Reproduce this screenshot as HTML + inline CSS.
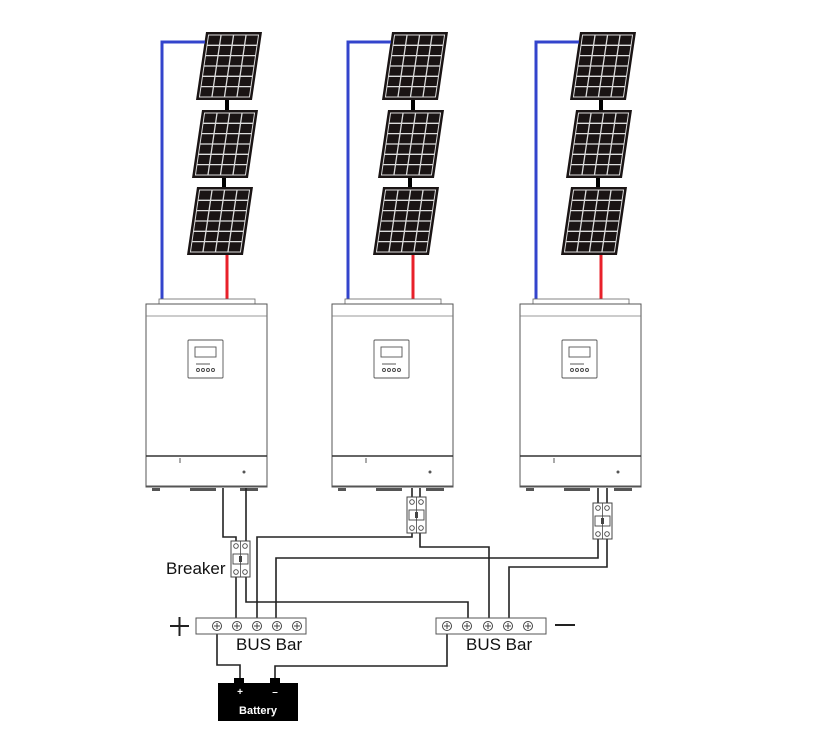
<!DOCTYPE html>
<html><head><style>body{margin:0;background:#fff}svg{display:block}</style></head><body>
<svg width="817" height="750" viewBox="0 0 817 750" xmlns="http://www.w3.org/2000/svg">
<defs>
<g id="panel">
<rect x="0" y="0" width="56" height="68" fill="#1a1414"/>
<rect x="3" y="3" width="50" height="62" fill="none" stroke="#ddd" stroke-width="1"/>
<g stroke="#ddd" stroke-width="1.3">
<line x1="15.5" y1="3" x2="15.5" y2="65"/><line x1="28" y1="3" x2="28" y2="65"/><line x1="40.5" y1="3" x2="40.5" y2="65"/>
<line x1="3" y1="13.3" x2="53" y2="13.3"/><line x1="3" y1="23.6" x2="53" y2="23.6"/><line x1="3" y1="34" x2="53" y2="34"/>
<line x1="3" y1="44.3" x2="53" y2="44.3"/><line x1="3" y1="54.6" x2="53" y2="54.6"/>
</g>
</g>
<g id="unit">
<line x1="227" y1="100" x2="227" y2="110" stroke="#000" stroke-width="4"/>
<line x1="224" y1="178" x2="224" y2="188" stroke="#000" stroke-width="4"/>
<use href="#panel" transform="matrix(1,0,-0.147,1,206,32)"/>
<use href="#panel" transform="matrix(1,0,-0.147,1,202,110)"/>
<use href="#panel" transform="matrix(1,0,-0.147,1,197,187)"/>
<polyline points="162,303 162,42 205,42" fill="none" stroke="#3344cc" stroke-width="3"/>
<line x1="227" y1="255" x2="227" y2="303" stroke="#e8202a" stroke-width="3"/>
<rect x="159" y="299" width="96" height="5" fill="#fff" stroke="#666" stroke-width="0.8"/>
<rect x="146" y="304" width="121" height="183" fill="#fff" stroke="#555" stroke-width="1"/>
<line x1="146" y1="316" x2="267" y2="316" stroke="#777" stroke-width="0.8"/>
<line x1="146" y1="456" x2="267" y2="456" stroke="#333" stroke-width="1.5"/>
<line x1="146" y1="486" x2="267" y2="486" stroke="#555" stroke-width="1"/>
<rect x="188" y="340" width="35" height="38" fill="#fff" stroke="#555" stroke-width="0.9" rx="1"/>
<rect x="195" y="347" width="21" height="10" fill="#fff" stroke="#555" stroke-width="0.9"/>
<g fill="none" stroke="#444" stroke-width="0.9">
<circle cx="198" cy="370" r="1.5"/><circle cx="203" cy="370" r="1.5"/><circle cx="208" cy="370" r="1.5"/><circle cx="213" cy="370" r="1.5"/>
<line x1="196" y1="364" x2="210" y2="364"/>
</g>
<circle cx="244" cy="472" r="1.5" fill="#555"/>
<line x1="180" y1="458" x2="180" y2="463" stroke="#555"/>
<g fill="#555"><rect x="152" y="488" width="8" height="3"/><rect x="190" y="488" width="26" height="3"/><rect x="240" y="488" width="18" height="3"/></g>
</g>
<g id="brk">
<rect x="0" y="0" width="19" height="36" fill="#fff" stroke="#444" stroke-width="1"/>
<line x1="9.5" y1="0" x2="9.5" y2="36" stroke="#444" stroke-width="0.8"/>
<g fill="none" stroke="#444" stroke-width="0.9"><circle cx="5" cy="5" r="2.3"/><circle cx="14" cy="5" r="2.3"/><circle cx="5" cy="31" r="2.3"/><circle cx="14" cy="31" r="2.3"/>
<rect x="2" y="13" width="15" height="10"/></g>
<rect x="8" y="15" width="3" height="6" fill="#444"/>
</g>
<g id="screw"><circle r="4.5" fill="#fff" stroke="#444" stroke-width="1"/><line x1="-3" y1="0" x2="3" y2="0" stroke="#444"/><line x1="0" y1="-3" x2="0" y2="3" stroke="#444"/></g>
</defs>
<use href="#unit"/>
<use href="#unit" transform="translate(186,0)"/>
<use href="#unit" transform="translate(374,0)"/>
<g fill="none" stroke="#222" stroke-width="1.6">
<polyline points="223,488 223,537 236,537 236,620"/>
<polyline points="246,488 246,602 468,602 468,620"/>
<polyline points="412,488 412,537 257,537 257,620"/>
<polyline points="420,488 420,547 489,547 489,620"/>
<polyline points="598,488 598,558 276,558 276,620"/>
<polyline points="607,488 607,567 509,567 509,620"/>
<polyline points="217,630 217,665 240,665 240,680"/>
<polyline points="447,630 447,666 275,666 275,680"/>
</g>
<use href="#brk" transform="translate(231,541)"/>
<use href="#brk" transform="translate(407,497)"/>
<use href="#brk" transform="translate(593,503)"/>
<rect x="196" y="618" width="110" height="16" fill="#fff" stroke="#555" stroke-width="1"/>
<rect x="436" y="618" width="110" height="16" fill="#fff" stroke="#555" stroke-width="1"/>
<use href="#screw" x="217" y="626"/><use href="#screw" x="237" y="626"/><use href="#screw" x="257" y="626"/><use href="#screw" x="277" y="626"/><use href="#screw" x="297" y="626"/>
<use href="#screw" x="447" y="626"/><use href="#screw" x="467" y="626"/><use href="#screw" x="488" y="626"/><use href="#screw" x="508" y="626"/><use href="#screw" x="528" y="626"/>
<g stroke="#222" stroke-width="2"><line x1="170" y1="626" x2="189" y2="626"/><line x1="179.5" y1="617" x2="179.5" y2="636"/><line x1="555" y1="625" x2="575" y2="625"/></g>
<g font-family="Liberation Sans, sans-serif" fill="#111">
<text x="236" y="650" font-size="17">BUS Bar</text>
<text x="466" y="650" font-size="17">BUS Bar</text>
<text x="166" y="574" font-size="17">Breaker</text>
</g>
<rect x="234" y="678" width="10" height="6" fill="#000"/><rect x="270" y="678" width="10" height="6" fill="#000"/>
<rect x="218" y="683" width="80" height="38" fill="#000"/>
<g font-family="Liberation Sans, sans-serif" fill="#fff" font-weight="bold">
<text x="240" y="695" font-size="10" text-anchor="middle">+</text>
<text x="275" y="695" font-size="10" text-anchor="middle">–</text>
<text x="258" y="714" font-size="11" text-anchor="middle">Battery</text>
</g>
</svg>
</body></html>
